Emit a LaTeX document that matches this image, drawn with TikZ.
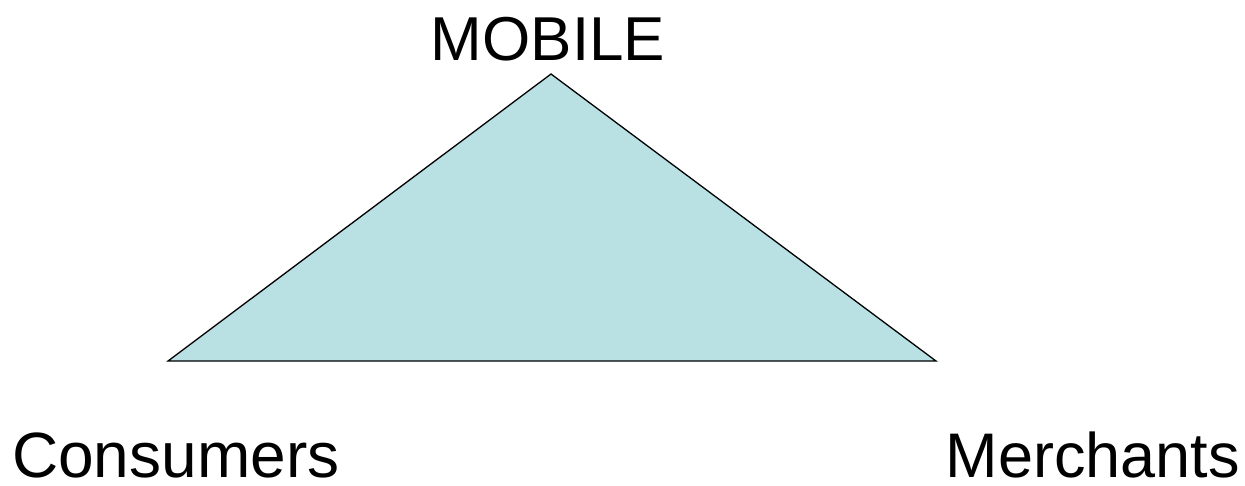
\documentclass[tikz,border=0pt]{standalone}
\usepackage{fontspec}
\setmainfont{Liberation Sans}
\usetikzlibrary{positioning}
\definecolor{triblue}{HTML}{B9E0E3}

\begin{document}
\begin{tikzpicture}[x=1pt,y=-1pt,label/.style={inner sep=0pt,text depth=0pt,font=\fontsize{62}{70}\selectfont}]
\useasboundingbox (0,0) rectangle (1245,485);
\coordinate (top) at (551,74);
\coordinate (left) at (168,361);
\coordinate (right) at (936,361);
\draw[fill=triblue, line width=1.3pt] (top) -- (right) -- (left) -- cycle;
\node[label, anchor=base] (mobile) at (548,60) {MOBILE};
\node[label, font=\fontsize{64}{70}\selectfont, anchor=base west] (consumers) at (12,477) {Consumers};
\node[label, font=\fontsize{63}{70}\selectfont, anchor=base east] (merchants) at (1240,477) {Merchants};
\end{tikzpicture}
\end{document}
